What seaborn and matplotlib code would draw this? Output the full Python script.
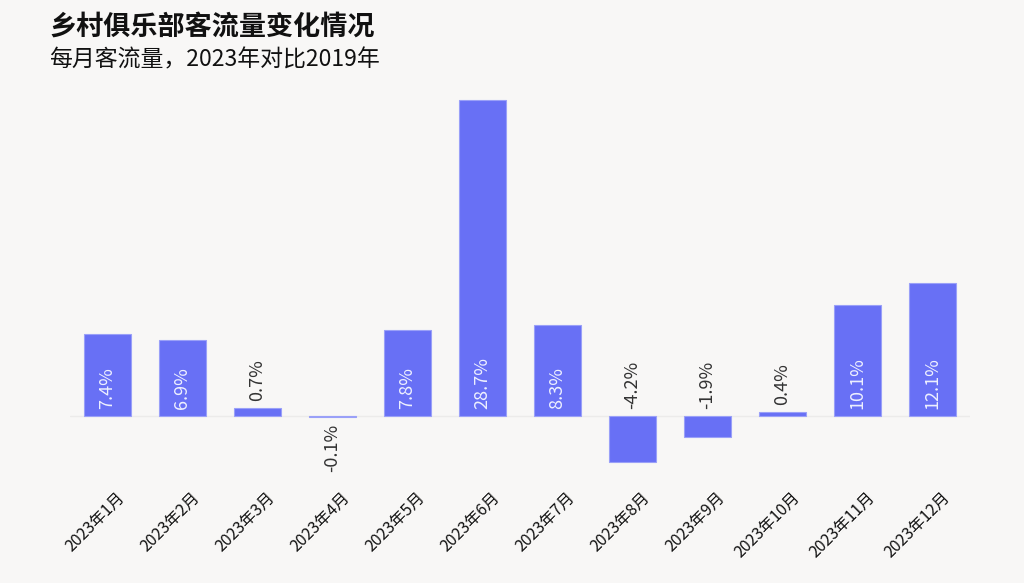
import matplotlib
matplotlib.use("Agg")
import matplotlib.pyplot as plt
import matplotlib.transforms as mtransforms
import seaborn as sns
import pandas as pd

# Data
months = ["2023年1月", "2023年2月", "2023年3月", "2023年4月", "2023年5月", "2023年6月",
          "2023年7月", "2023年8月", "2023年9月", "2023年10月", "2023年11月", "2023年12月"]
change = [7.4, 6.9, 0.7, -0.1, 7.8, 28.7, 8.3, -4.2, -1.9, 0.4, 10.1, 12.1]

df = pd.DataFrame({"month": months, "change": change})

bg = "#f8f7f6"
bar_color = "#6870f5"

sns.set_theme(style="white")
plt.rcParams["font.family"] = ["Noto Sans CJK SC", "DejaVu Sans"]

fig = plt.figure(figsize=(10.24, 5.83), dpi=100, facecolor=bg)
ax = fig.add_axes([70 / 1024, 1 - 471 / 583, 900 / 1024, (471 - 96.7) / 583])
ax.set_facecolor(bg)

sns.barplot(data=df, x="month", y="change", color=bar_color, width=0.62,
            edgecolor="#9aa0f8", linewidth=0.8, saturation=1, ax=ax)

ax.set_ylim(-5, 29)
ax.set_xlim(-0.5, 11.5)
ax.axhline(0, color="#ecebea", lw=1, zorder=0)

for s in ax.spines.values():
    s.set_visible(False)
ax.set_yticks([])
ax.set_xlabel("")
ax.set_ylabel("")
ax.tick_params(axis="x", length=0, pad=13)

offset = mtransforms.ScaledTranslation(9 / 100, 0, fig.dpi_scale_trans)
for lab in ax.get_xticklabels():
    lab.set_rotation(45)
    lab.set_ha("right")
    lab.set_va("top")
    lab.set_rotation_mode("anchor")
    lab.set_fontsize(11.5)
    lab.set_color("#111111")
    lab.set_transform(lab.get_transform() + offset)

# value labels
for i, v in enumerate(change):
    txt = f"{v:.1f}%"
    if v >= 5:
        ax.annotate(txt, (i, 0), xytext=(0, 5), textcoords="offset points",
                    rotation=90, ha="center", va="bottom", fontsize=13,
                    color="#eef0ff")
    elif v > -1:
        if v >= 0:
            ax.annotate(txt, (i, v), xytext=(0, 5), textcoords="offset points",
                        rotation=90, ha="center", va="bottom", fontsize=13,
                        color="#333333")
        else:
            ax.annotate(txt, (i, v), xytext=(0, -5), textcoords="offset points",
                        rotation=90, ha="center", va="top", fontsize=13,
                        color="#333333")
    else:
        ax.annotate(txt, (i, 0), xytext=(0, 5), textcoords="offset points",
                    rotation=90, ha="center", va="bottom", fontsize=13,
                    color="#333333")

fig.text(49 / 1024, 1 - 27 / 583, "乡村俱乐部客流量变化情况", fontsize=19.5,
         fontweight="bold", ha="left", va="center", color="#111111")
fig.text(49 / 1024, 1 - 60 / 583, "每月客流量，2023年对比2019年", fontsize=16.5,
         ha="left", va="center", color="#111111")

fig.savefig("out.png", dpi=100, facecolor=bg)
